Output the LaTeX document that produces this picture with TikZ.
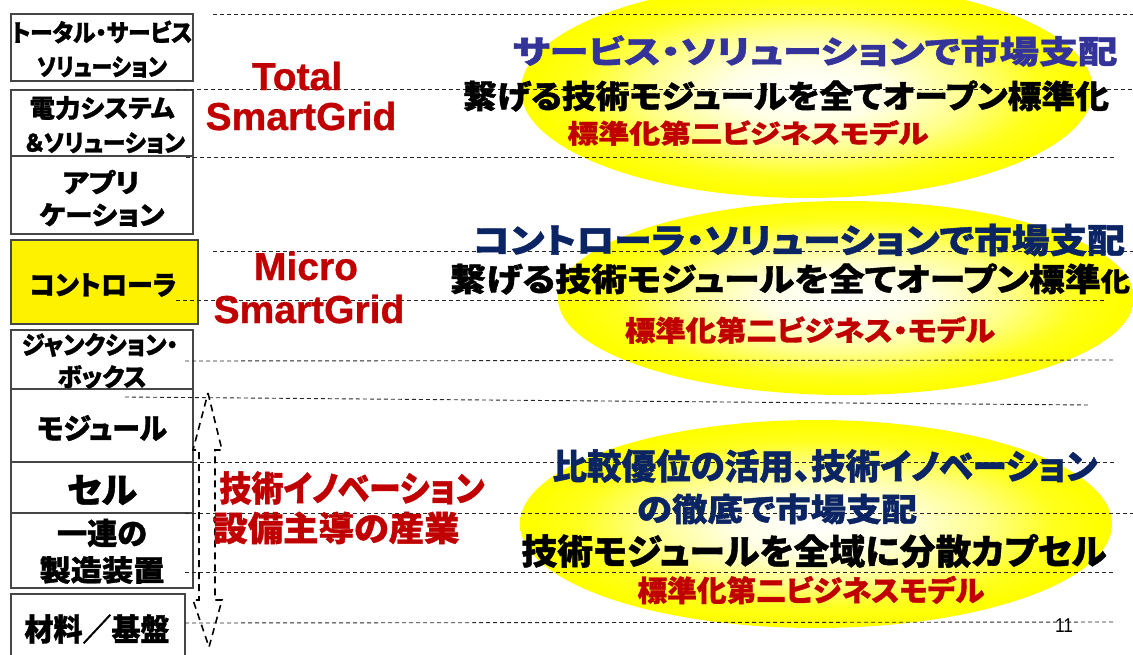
\documentclass[tikz,border=0pt]{standalone}
\usepackage{fontspec}
\setmainfont{Liberation Sans}[BoldFeatures={FakeBold=0.8}]
\newfontfamily\jp[RawFeature=+palt, BoldFeatures={FakeBold=1.2}]{Noto Sans CJK JP}
\usetikzlibrary{shapes.geometric}
\definecolor{jred}{RGB}{192,0,0}
\definecolor{jblue}{RGB}{51,51,153}
\definecolor{jnavy}{RGB}{10,36,100}
\definecolor{boxgray}{RGB}{70,70,70}
\pgfdeclareradialshading{ellshade}{\pgfpoint{0bp}{0bp}}{color(0bp)=(white); color(7bp)=(yellow!10!white); color(14bp)=(yellow!45!white); color(20bp)=(yellow!88!white); color(24bp)=(yellow); color(50bp)=(yellow)}
\newcommand{\hf}[3]{\resizebox{#1pt}{\height}{\fontsize{#2pt}{#2pt}\selectfont #3}}
\tikzset{
  boxs/.style={draw=boxgray, line width=1.4pt, inner sep=0pt, fill=white},
  ell/.style={ellipse, inner sep=0pt, shading=ellshade, draw=none},
  guide/.style={draw=black!85, line width=0.9pt, dash pattern=on 4pt off 3pt},
  arrowdash/.style={draw=black, line width=1.6pt, dash pattern=on 7pt off 5pt, line join=miter},
  jt/.style={inner sep=0pt, font=\jp\bfseries, anchor=center},
  lt/.style={inner sep=0pt, font=\fontsize{39pt}{39pt}\selectfont\bfseries, text=jred, anchor=base},
}
\begin{document}
\begin{tikzpicture}[x=1pt,y=-1pt]
\useasboundingbox (0,0) rectangle (1133,654);
\clip (0,0) rectangle (1133,654);
% ellipses
\node[ell, minimum width=572pt, minimum height=216pt] (e1) at (807,90) {};
\node[ell, minimum width=576pt, minimum height=194pt] (e2) at (846,298) {};
\node[ell, minimum width=592pt, minimum height=208pt] (e3) at (816,524) {};
% left boxes
\node[boxs, minimum width=182pt, minimum height=67pt] (b1) at (102,47.5) {};
\node[boxs, minimum width=182pt, minimum height=66pt] (b2) at (102,123) {};
\node[boxs, minimum width=182pt, minimum height=78pt] (b3) at (102,195) {};
\node[boxs, fill=yellow, minimum width=187pt, minimum height=84pt] (b4) at (104.5,282) {};
\node[boxs, minimum width=182pt, minimum height=59pt] (b5) at (102,359.5) {};
\node[boxs, minimum width=182pt, minimum height=73pt] (b6) at (102,425.5) {};
\node[boxs, minimum width=182pt, minimum height=51pt] (b7) at (102,487.5) {};
\node[boxs, minimum width=182pt, minimum height=75pt] (b8) at (102,550.5) {};
\node[boxs, minimum width=174pt, minimum height=80pt] (b9) at (98,634) {};
% guide lines
\draw[guide] (213,14) -- (1133,14);
\draw[guide] (176,89) -- (1133,89);
\draw[guide] (186,157) -- (1115,157);
\draw[guide] (213,251) -- (1133,251);
\draw[guide] (176,300) -- (1107,300);
\draw[guide] (185,361) -- (1115,360);
\draw[guide] (125,397) -- (1088,405);
\draw[guide] (193,462) -- (1115,462);
\draw[guide] (185,513) -- (1133,513);
\draw[guide] (185,572) -- (1115,572);
\draw[guide] (185,623) -- (1115,622);
% double arrow
\draw[arrowdash] (208,393) -- (222,450) -- (215,450) -- (215,600) -- (222,600) -- (209,647)
  -- (193,600) -- (199,600) -- (199,450) -- (193,450) -- cycle;
% box texts
\node[jt] (t1a) at (102,32) {\hf{181}{24}{トータル・サービス}};
\node[jt] (t1b) at (102,67) {\hf{130}{24}{ソリューション}};
\node[jt] (t2a) at (102,108) {\hf{145}{25}{電力システム}};
\node[jt] (t2b) at (105,143) {\hf{160}{24}{＆ソリューション}};
\node[jt] (t3a) at (101,182) {\hf{77}{26}{アプリ}};
\node[jt] (t3b) at (102,215) {\hf{125}{26}{ケーション}};
\node[jt] (t4) at (103,285) {\hf{147}{27}{コントローラ}};
\node[jt] (t5a) at (100,345) {\hf{156}{25}{ジャンクション・}};
\node[jt] (t5b) at (102,377) {\hf{89}{25}{ボックス}};
\node[jt] (t6) at (102,428) {\hf{130}{29}{モジュール}};
\node[jt] (t7) at (102,490) {\hf{70}{35}{セル}};
\node[jt] (t8a) at (102,533) {\hf{90}{30}{一連の}};
\node[jt] (t8b) at (102,570) {\hf{125}{29}{製造装置}};
\node[jt] (t9) at (97,629) {\hf{145}{31}{材料／基盤}};
% red labels
\node[lt] (total) at (297,90) {Total};
\node[lt] (sg1) at (301,130) {SmartGrid};
\node[lt] (micro) at (306,280) {Micro};
\node[lt] (sg2) at (309,323) {SmartGrid};
\node[jt, text=jred] (inno) at (352,488) {\hf{265}{35}{技術イノベーション}};
\node[jt, text=jred] (setsu) at (336,528) {\hf{247}{34}{設備主導の産業}};
% ellipse 1 texts
\node[jt, text=jblue] (e1a) at (815,51) {\hf{605}{32}{サービス・ソリューションで市場支配}};
\node[jt] (e1b) at (786,96) {\hf{646}{32}{繋げる技術モジュールを全てオープン標準化}};
\node[jt, text=jred] (e1c) at (748,133) {\hf{361}{26}{標準化第二ビジネスモデル}};
% ellipse 2 texts
\node[jt, text=jnavy] (e2a) at (799,240) {\hf{652}{34}{コントローラ・ソリューションで市場支配}};
\node[jt] (e2b) at (790,279) {\hf{680}{32}{繋げる技術モジュールを全てオープン標準{\fontsize{26pt}{26pt}\selectfont 化}}};
\node[jt, text=jred] (e2c) at (810,330) {\hf{370}{28}{標準化第二ビジネス・モデル}};
% ellipse 3 texts
\node[jt, text=jnavy] (e3a) at (825,466) {\hf{545}{35}{比較優位の活用、技術イノベーション}};
\node[jt, text=jnavy] (e3b) at (777,509) {\hf{280}{32}{の徹底で市場支配}};
\node[jt] (e3c) at (814,551) {\hf{585}{35}{技術モジュールを全域に分散カプセル}};
\node[jt, text=jred] (e3d) at (811,590) {\hf{347}{29}{標準化第二ビジネスモデル}};
% page number
\node[inner sep=0pt, font=\fontsize{20pt}{20pt}\selectfont, text=black] (pg) at (1064,626) {\resizebox{18pt}{\height}{11}};
\end{tikzpicture}
\end{document}
